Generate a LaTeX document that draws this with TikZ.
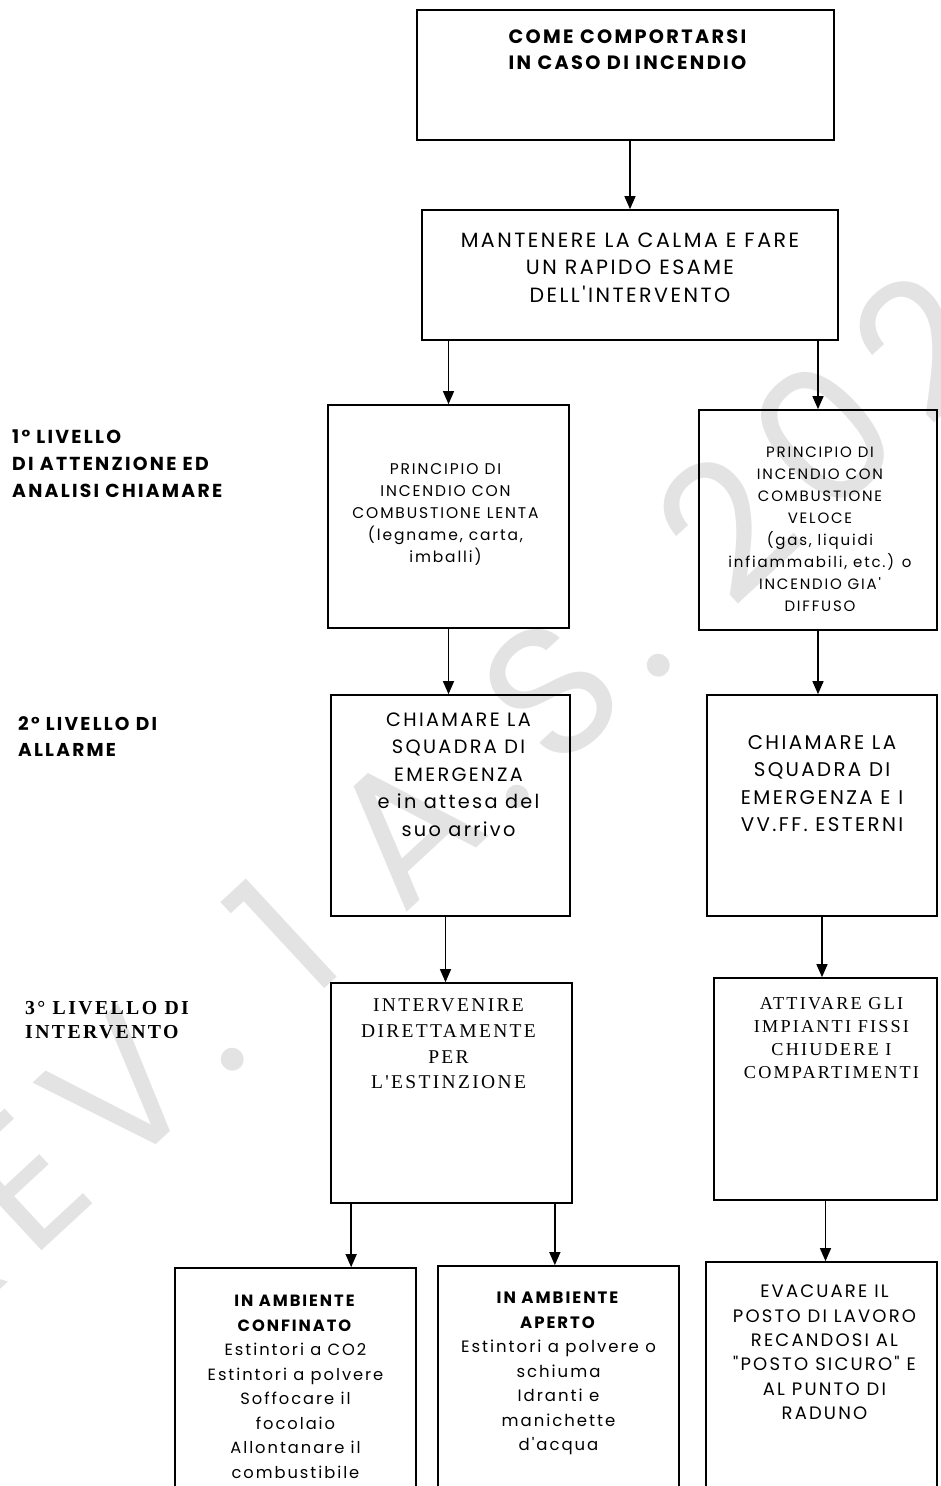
\documentclass[tikz,border=0pt]{standalone}
\usepackage{fontspec}
\setmainfont{Poppins}[LetterSpace=12, Ligatures=TeXOff]
\newfontfamily\timesfont{Liberation Serif}[LetterSpace=12, Ligatures=TeXOff]
\usetikzlibrary{positioning}
\usetikzlibrary{arrows.meta}

\tikzset{
	box/.style 2 args={draw, line width=1.7pt, minimum width=#1, minimum height=#2, inner sep=0pt},
	txt/.style 2 args={align=center, inner sep=0pt, font=\fontsize{#1}{#2}\selectfont},
	boldtxt/.style 2 args={align=center, inner sep=0pt, font=\bfseries\fontsize{#1}{#2}\selectfont},
	serif/.style 2 args={align=center, inner sep=0pt, font=\timesfont\fontsize{#1}{#2}\selectfont},
	arr/.style={line width=1.4pt, -{Triangle[length=13pt, width=11pt]}},
	lvl/.style={align=left, anchor=north west, inner sep=0pt},
	watermark/.style={text=black!11, font=\fontsize{185}{185}\selectfont, rotate=42.8, anchor=base west, inner sep=0pt}
}

\begin{document}
\begin{tikzpicture}[x=1pt, y=-1pt]
	\useasboundingbox (0,0) rectangle (940,1486);
	\clip (0,0) rectangle (940,1486);
	
	\node[watermark](wm) at (-67,1352){REV. 1 A.S. 2023};
	
	\node[box={417pt}{130pt}](title) at (625.5,75){};
	\node[box={416pt}{130pt}](calma) at (630,275){};
	\node[box={241pt}{223pt}](lenta) at (448.5,516.5){};
	\node[box={238pt}{220pt}](veloce) at (818,520){};
	\node[box={239pt}{221pt}](squadra) at (450.5,805.5){};
	\node[box={230pt}{221pt}](vvff) at (822,805.5){};
	\node[box={241pt}{220pt}](estinz) at (451.5,1093){};
	\node[box={223pt}{222pt}](impianti) at (825.5,1089){};
	\node[box={241pt}{272pt}](confinato) at (295.5,1404){};
	\node[box={241pt}{274pt}](aperto) at (558.5,1403){};
	\node[box={231pt}{278pt}](evacuare) at (821.5,1401){};
	
	\node[boldtxt={19.3}{26}, below=20pt of title.north, xshift=2pt](title_t){COME COMPORTARSI\\IN CASO DI INCENDIO};
	\node[txt={20.6}{27.5}, below=23.5pt of calma.north](calma_t){MANTENERE LA CALMA E FARE\\UN RAPIDO ESAME\\DELL'INTERVENTO};
	\node[txt={15.5}{22}, below=59.5pt of lenta.north, xshift=-3pt](lenta_t){PRINCIPIO DI\\INCENDIO CON\\COMBUSTIONE LENTA\\(legname, carta,\\imballi)};
	\node[txt={15}{22}, below=37.7pt of veloce.north, xshift=2pt](veloce_t){PRINCIPIO DI\\INCENDIO CON\\COMBUSTIONE\\VELOCE\\(gas, liquidi\\infiammabili, etc.) o\\INCENDIO GIA'\\DIFFUSO};
	\node[txt={19.3}{27.5}, below=18.3pt of squadra.north, xshift=8pt](squadra_t){CHIAMARE LA\\SQUADRA DI\\EMERGENZA\\e in attesa del\\suo arrivo};
	\node[txt={19.8}{27.5}, below=41pt of vvff.north](vvff_t){CHIAMARE LA\\SQUADRA DI\\EMERGENZA E I\\VV.FF. ESTERNI};
	\node[serif={19.5}{25.7}, below=16.6pt of estinz.north, xshift=-3pt](estinz_t){INTERVENIRE\\DIRETTAMENTE\\PER\\L'ESTINZIONE};
	\node[serif={18.2}{23}, below=20pt of impianti.north, xshift=6pt](impianti_t){ATTIVARE GLI\\IMPIANTI FISSI\\CHIUDERE I\\COMPARTIMENTI};
	\node[txt={16.3}{24.5}, below=28pt of confinato.north](confinato_t){\textbf{IN AMBIENTE}\\\textbf{CONFINATO}\\Estintori a CO2\\Estintori a polvere\\Soffocare il\\focolaio\\Allontanare il\\combustibile};
	\node[txt={16.5}{24.5}, below=27pt of aperto.north](aperto_t){\textbf{IN AMBIENTE}\\\textbf{APERTO}\\Estintori a polvere o\\schiuma\\Idranti e\\manichette\\d'acqua};
	\node[txt={18}{24.4}, below=23.7pt of evacuare.north, xshift=3pt](evacuare_t){EVACUARE IL\\POSTO DI LAVORO\\RECANDOSI AL\\"POSTO SICURO" E\\AL PUNTO DI\\RADUNO};
	
	\node[lvl, font=\bfseries\fontsize{18.8}{27}\selectfont](lvl1) at (12,429.5){1° LIVELLO\\DI ATTENZIONE ED\\ANALISI CHIAMARE};
	\node[lvl, font=\bfseries\fontsize{18.6}{26}\selectfont](lvl2) at (18,716.5){2° LIVELLO DI\\ALLARME};
	\node[lvl, font=\timesfont\bfseries\fontsize{19.8}{24}\selectfont](lvl3) at (25,1001.6){3° LIVELLO DI\\INTERVENTO};
	
	\draw[arr] (title.south -| calma.north) -- (calma.north);
	\draw[arr] (calma.south -| lenta.north) -- (lenta.north);
	\draw[arr] (calma.south -| veloce.north) -- (veloce.north);
	\draw[arr] (lenta.south) -- (lenta.south |- squadra.north);
	\draw[arr] (veloce.south) -- (veloce.south |- vvff.north);
	\draw[arr] ([xshift=-5pt]squadra.south) -- ([xshift=-5pt]squadra.south |- estinz.north);
	\draw[arr] (vvff.south) -- (vvff.south |- impianti.north);
	\draw[arr] ([xshift=21pt]estinz.south west) -- ([xshift=21pt]estinz.south west |- confinato.north);
	\draw[arr] ([xshift=-18pt]estinz.south east) -- ([xshift=-18pt]estinz.south east |- aperto.north);
	\draw[arr] (impianti.south) -- (impianti.south |- evacuare.north);
\end{tikzpicture}
\end{document}
